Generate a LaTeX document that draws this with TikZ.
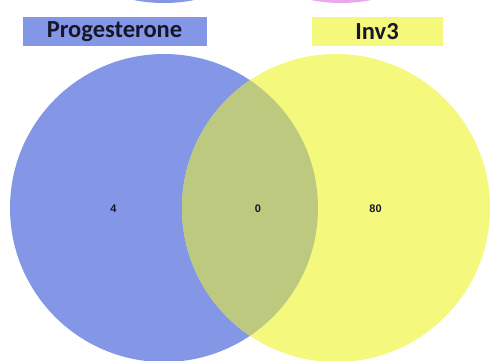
\documentclass[tikz,border=0pt]{standalone}
\usepackage{fontspec}
\setmainfont{Carlito}
\newfontfamily\numfont{Liberation Sans}
\definecolor{vblue}{RGB}{132,151,230}
\definecolor{vyellow}{RGB}{244,248,124}
\definecolor{voverlap}{RGB}{190,201,128}
\definecolor{vpink}{RGB}{234,168,234}
\definecolor{vtext}{RGB}{22,22,40}
\tikzset{
  labelbox/.style={inner sep=0pt, minimum height=29pt, text=vtext, font=\fontsize{24.5}{26}\selectfont\bfseries},
  countlabel/.style={inner sep=0pt, text=vtext, font=\numfont\fontsize{11}{13}\selectfont\bfseries}
}
\begin{document}
\begin{tikzpicture}[x=1pt,y=-1pt]
\useasboundingbox (0,0) rectangle (490,360);
\clip (0,0) rectangle (490,360);
% partial circles of a diagram above
\fill[vblue] (164,-151) circle[radius=154pt];
\fill[vpink] (341,-151) circle[radius=154pt];
% main Venn circles
\fill[vblue] (164,208) circle[radius=154pt];
\fill[vyellow] (336,208) circle[radius=154pt];
\begin{scope}
  \clip (164,208) circle[radius=154pt];
  \fill[voverlap] (336,208) circle[radius=154pt];
\end{scope}
% set labels
\node[labelbox, fill=vblue, minimum width=184pt] (progesterone) at (114.5,31.5) {Progesterone};
\node[labelbox, fill=vyellow, minimum width=131pt] (inv3) at (377,31.5) {Inv3};
% counts
\node[countlabel] (onlyprog) at (113.5,209) {4};
\node[countlabel] (both) at (258,209) {0};
\node[countlabel] (onlyinv) at (375.5,209) {80};
\end{tikzpicture}
\end{document}
